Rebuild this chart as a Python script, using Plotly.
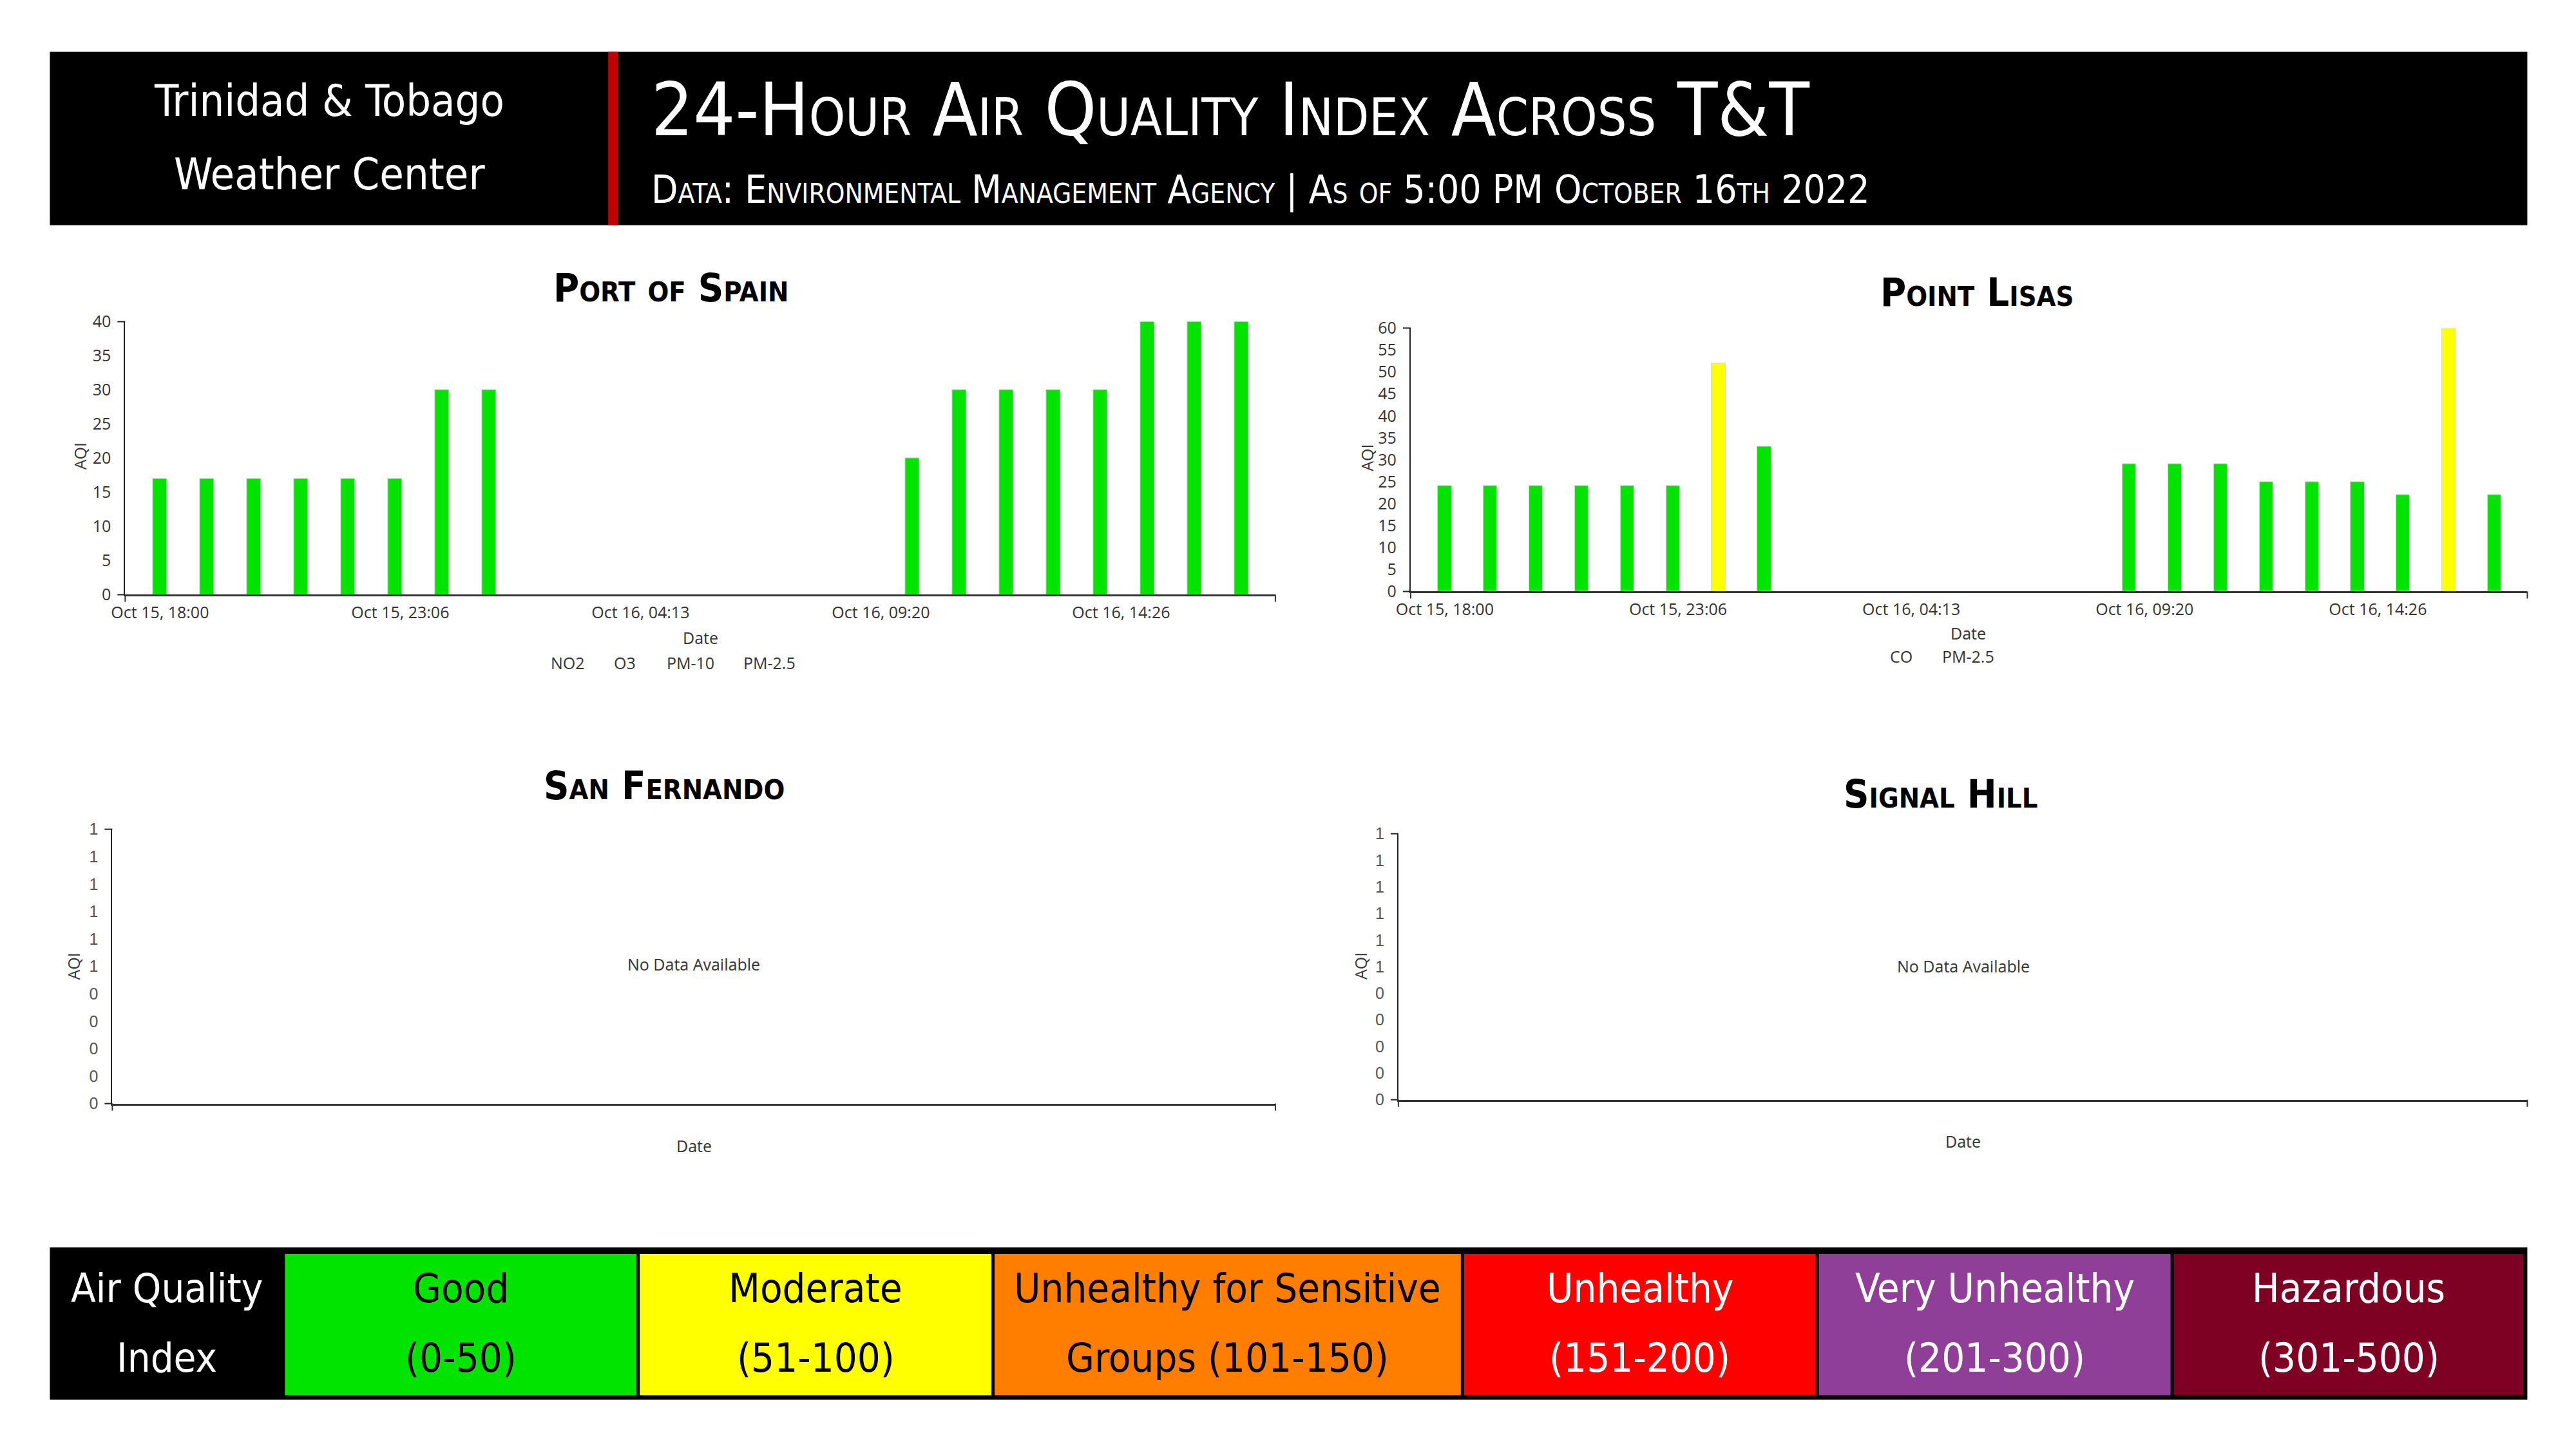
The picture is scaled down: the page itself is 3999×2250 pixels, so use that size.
import plotly.graph_objects as go

W, H = 3999, 2250

# ---------------- data ----------------
POS_TIMES = ["2022-10-15 18:00", "2022-10-15 19:00", "2022-10-15 20:00", "2022-10-15 21:00",
             "2022-10-15 22:00", "2022-10-15 23:00", "2022-10-16 00:00", "2022-10-16 01:00",
             "2022-10-16 10:00", "2022-10-16 11:00", "2022-10-16 12:00", "2022-10-16 13:00",
             "2022-10-16 14:00", "2022-10-16 15:00", "2022-10-16 16:00", "2022-10-16 17:00"]
POS_AQI = [17, 17, 17, 17, 17, 17, 30, 30, 20, 30, 30, 30, 30, 40, 40, 40]

PL_TIMES = ["2022-10-15 18:00", "2022-10-15 19:00", "2022-10-15 20:00", "2022-10-15 21:00",
            "2022-10-15 22:00", "2022-10-15 23:00", "2022-10-16 00:00", "2022-10-16 01:00",
            "2022-10-16 09:00", "2022-10-16 10:00", "2022-10-16 11:00", "2022-10-16 12:00",
            "2022-10-16 13:00", "2022-10-16 14:00", "2022-10-16 15:00", "2022-10-16 16:00",
            "2022-10-16 17:00"]
PL_AQI = [24, 24, 24, 24, 24, 24, 52, 33, 29, 29, 29, 25, 25, 25, 22, 60, 22]

X_TICK_VALS = ["2022-10-15 18:00:00", "2022-10-15 23:06:40", "2022-10-16 04:13:20",
               "2022-10-16 09:20:00", "2022-10-16 14:26:40"]
X_TICK_TEXT = ["Oct 15, 18:00", "Oct 15, 23:06", "Oct 16, 04:13", "Oct 16, 09:20", "Oct 16, 14:26"]
POS_X_RANGE = ["2022-10-15 17:15:37", "2022-10-16 17:43:34"]
PL_X_RANGE = ["2022-10-15 17:15:07", "2022-10-16 17:43:11"]

POS_Y_TICKS = [0, 5, 10, 15, 20, 25, 30, 35, 40]
PL_Y_TICKS = [0, 5, 10, 15, 20, 25, 30, 35, 40, 45, 50, 55, 60]
EMPTY_Y_TICKS = [0, 0.1, 0.2, 0.3, 0.4, 0.5, 0.6, 0.7, 0.8, 0.9, 1.0]
EMPTY_Y_TEXT = ["0", "0", "0", "0", "0", "1", "1", "1", "1", "1", "1"]

POS_POLLUTANTS = ["NO2", "O3", "PM-10", "PM-2.5"]
PL_POLLUTANTS = ["CO", "PM-2.5"]

STATIONS = ["Port of Spain", "Point Lisas", "San Fernando", "Signal Hill"]

AQI_NAMES = ["Good", "Moderate", "Unhealthy for Sensitive", "Unhealthy", "Very Unhealthy", "Hazardous"]
AQI_RANGES = ["(0-50)", "(51-100)", "Groups (101-150)", "(151-200)", "(201-300)", "(301-500)"]
AQI_UPPER = [50, 100, 150, 200, 300, 500]
AQI_COLORS = ["#00e400", "#ffff00", "#ff7e00", "#ff0000", "#8f3f97", "#7e0023"]
AQI_TEXT_COLORS = ["#000000", "#000000", "#000000", "#ffffff", "#ffffff", "#ffffff"]

HEADER_LEFT = ["Trinidad & Tobago", "Weather Center"]
MAIN_TITLE = "24-Hour Air Quality Index Across T&T"
SUBTITLE = "Data: Environmental Management Agency | As of 5:00 PM October 16th 2022"

# ---------------- helpers ----------------
VSTRETCH = 1.013
HSTRETCH = 1 / 0.9945
HANCHOR = 3923


def px(x):
    return (HANCHOR - (HANCHOR - x) * HSTRETCH) / W


def py(y):
    return 1 - (H / 2 + (y - H / 2) * VSTRETCH) / H


def aqi_color(v):
    for up, c in zip(AQI_UPPER, AQI_COLORS):
        if v <= up:
            return c
    return AQI_COLORS[-1]


NARROW = "DejaVu Sans Condensed, Liberation Sans Narrow, Arial Narrow, sans-serif"
SMALL = 25
TICKFONT = dict(family="Open Sans, sans-serif", size=SMALL, color="#333333")

# plot areas (pixel boxes: left, right, top, bottom)
BOXES = {
    1: (193, 1979, 497, 922),
    2: (2189, 3923, 507, 917),
    3: (173, 1979, 1287, 1714),
    4: (2170, 3923, 1294, 1708),
}

fig = go.Figure()

BAR_W = 0.30 * 3600 * 1000
fig.add_trace(go.Bar(x=POS_TIMES, y=POS_AQI, width=BAR_W,
                     marker=dict(color=[aqi_color(v) for v in POS_AQI],
                                 line=dict(color="#d6d6d6", width=1)),
                     xaxis="x", yaxis="y", showlegend=False))
fig.add_trace(go.Bar(x=PL_TIMES, y=PL_AQI, width=BAR_W,
                     marker=dict(color=[aqi_color(v) for v in PL_AQI],
                                 line=dict(color="#d6d6d6", width=1)),
                     xaxis="x2", yaxis="y2", showlegend=False))
fig.add_trace(go.Scatter(x=[], y=[], xaxis="x3", yaxis="y3", showlegend=False))
fig.add_trace(go.Scatter(x=[], y=[], xaxis="x4", yaxis="y4", showlegend=False))

layout = dict(
    width=W, height=H,
    margin=dict(l=0, r=0, t=0, b=0),
    paper_bgcolor="white", plot_bgcolor="white",
    font=dict(family="Open Sans, sans-serif", color="#333333"),
    bargap=0,
)

for i in range(1, 5):
    l, r, t, b = BOXES[i]
    sx = "" if i == 1 else str(i)
    xa = dict(domain=[px(l), px(r)], anchor="y" + sx, showgrid=False, zeroline=False,
              showline=True, linecolor="#333333", linewidth=3, ticks="",
              tickfont=TICKFONT, fixedrange=True)
    ya = dict(domain=[py(b), py(t)], anchor="x" + sx, showgrid=False, zeroline=False,
              showline=True, linecolor="#222222", linewidth=2, ticks="",
              tickfont=TICKFONT, ticklabelstandoff=15, fixedrange=True)
    if i == 1:
        xa.update(type="date", range=POS_X_RANGE, tickmode="array",
                  tickvals=X_TICK_VALS, ticktext=X_TICK_TEXT, ticklabelstandoff=4)
        ya.update(range=[0, 40], tickmode="array", tickvals=POS_Y_TICKS)
    elif i == 2:
        xa.update(type="date", range=PL_X_RANGE, tickmode="array",
                  tickvals=X_TICK_VALS, ticktext=X_TICK_TEXT, ticklabelstandoff=4)
        ya.update(range=[0, 60], tickmode="array", tickvals=PL_Y_TICKS)
    else:
        xa.update(range=[0, 1], showticklabels=False)
        ya.update(range=[0, 1], tickmode="array", tickvals=EMPTY_Y_TICKS,
                  ticktext=EMPTY_Y_TEXT,
                  tickfont=dict(family="Liberation Sans, Arial, sans-serif", size=SMALL, color="#555555"))
    layout["xaxis" + sx] = xa
    layout["yaxis" + sx] = ya

shapes = []
# header
shapes.append(dict(type="rect", xref="paper", yref="paper", x0=px(76), x1=px(3923),
                   y0=py(347), y1=py(77), fillcolor="black", line=dict(width=0), layer="below"))
shapes.append(dict(type="rect", xref="paper", yref="paper", x0=px(943), x1=px(958),
                   y0=py(347), y1=py(77), fillcolor="#c00000", line=dict(width=0), layer="below"))

# domain outer ticks
for i in range(1, 5):
    sx = "" if i == 1 else str(i)
    xd, yd = "x" + sx + " domain", "y" + sx + " domain"
    for yy in (0, 1):
        shapes.append(dict(type="line", xref=xd, yref=yd, xsizemode="pixel", xanchor=0,
                           x0=-12, x1=0, y0=yy, y1=yy, line=dict(color="#222222", width=2)))
    for xx in (0, 1):
        shapes.append(dict(type="line", xref=xd, yref=yd, ysizemode="pixel", yanchor=0,
                           y0=0, y1=-11, x0=xx, x1=xx, line=dict(color="#333333", width=2)))

# AQI legend band
shapes.append(dict(type="rect", xref="paper", yref="paper", x0=px(76), x1=px(3923),
                   y0=py(2175), y1=py(1938), fillcolor="black", line=dict(width=0), layer="below"))
BOX_EDGES = [(441, 987), (992, 1538), (1543, 2267), (2272, 2818), (2823, 3369), (3374, 3917)]
for (x0, x1), c in zip(BOX_EDGES, AQI_COLORS):
    shapes.append(dict(type="rect", xref="paper", yref="paper", x0=px(x0), x1=px(x1),
                       y0=py(2168), y1=py(1948), fillcolor=c, line=dict(width=0), layer="below"))

layout["shapes"] = shapes

ann = []


def text(x, y, s, size, color="#333333", family="Open Sans, sans-serif", xanchor="center",
         weight="normal", variant="normal", angle=0):
    ann.append(dict(x=px(x), y=py(y), xref="paper", yref="paper", text=s, showarrow=False,
                    xanchor=xanchor, yanchor="middle", textangle=angle,
                    font=dict(family=family, size=size, color=color, weight=weight, variant=variant)))


# header texts
text(510, 153, HEADER_LEFT[0], 68, "white", NARROW)
text(510, 268, HEADER_LEFT[1], 68, "white", NARROW)
text(1008, 167, MAIN_TITLE, 114, "white", NARROW, xanchor="left", variant="small-caps")
text(1008, 292, SUBTITLE, 60, "white", NARROW, xanchor="left", variant="small-caps")

# station titles
TITLE_POS = [(1040, 444), (3068, 451), (1030, 1219), (3012, 1232)]
for name, (x, y) in zip(STATIONS, TITLE_POS):
    text(x, y, name, 61, "black", NARROW, weight="bold", variant="small-caps")

# axis titles
for (x, y) in [(123, 706), (2121, 709), (113, 1500), (2111, 1500)]:
    text(x, y, "AQI", SMALL, "#333333", angle=-90)
for (x, y) in [(1086, 989), (3055, 982), (1076, 1780), (3047, 1772)]:
    text(x, y, "Date", SMALL, "#333333")

# pollutant legends
for s, x in zip(POS_POLLUTANTS, [880, 969, 1071, 1193]):
    text(x, 1028, s, SMALL, "#333333")
for s, x in zip(PL_POLLUTANTS, [2951, 3055]):
    text(x, 1018, s, SMALL, "#333333")

# no data
text(1076, 1497, "No Data Available", SMALL, "#333333")
text(3047, 1500, "No Data Available", SMALL, "#333333")

# AQI legend
LEG = 63
text(258, 2002, "Air Quality", LEG, "white", NARROW)
text(258, 2110, "Index", LEG, "white", NARROW)
for (x0, x1), n, rg, tc in zip(BOX_EDGES, AQI_NAMES, AQI_RANGES, AQI_TEXT_COLORS):
    cx = (x0 + x1) / 2
    text(cx, 2002, n, LEG, tc, NARROW)
    text(cx, 2110, rg, LEG, tc, NARROW)

layout["annotations"] = ann
fig.update_layout(**layout)
fig.write_html("out.html")
